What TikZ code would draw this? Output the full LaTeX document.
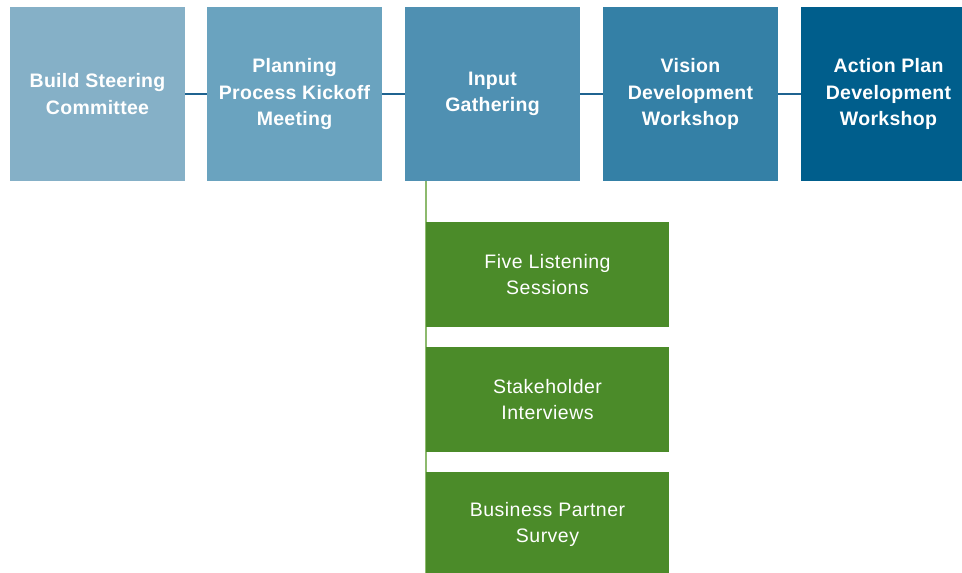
\documentclass[tikz,border=0pt]{standalone}
\usepackage{fontspec}
\setmainfont{Liberation Sans}
\newfontfamily\stepfont[LetterSpace=2.5]{Liberation Sans}
\newfontfamily\phasefont[LetterSpace=1.5]{Liberation Sans}
\begin{document}
\begin{tikzpicture}[x=1pt,y=-1pt,
  phase/.style={fill=#1, draw=none, minimum width=175pt, minimum height=174pt,
    inner sep=0pt, align=center, text=white,
    font=\phasefont\fontsize{19.5}{26.5}\selectfont\bfseries},
  task/.style={fill=taskgreen, draw=none, minimum width=243pt, minimum height=105pt,
    inner sep=0pt, align=center, text=white,
    font=\stepfont\fontsize{19.5}{26}\selectfont},
  link/.style={draw=linkblue, line width=1.2pt},
  stem/.style={draw=stemgreen, line width=1.4pt}]
\definecolor{ph1}{HTML}{85B0C7}
\definecolor{ph2}{HTML}{6AA3BF}
\definecolor{ph3}{HTML}{4F90B2}
\definecolor{ph4}{HTML}{3480A6}
\definecolor{ph5}{HTML}{005E8C}
\definecolor{taskgreen}{HTML}{4B8B29}
\definecolor{linkblue}{HTML}{1F6390}
\definecolor{stemgreen}{HTML}{8DBA6E}
\useasboundingbox (0,0) rectangle (962,573);
\clip (0,0) rectangle (962,573);

% vertical stem under the input phase
\coordinate (stemtop) at (426,181);
\coordinate (stembot) at (426,573);
\draw[stem] (stemtop) -- (stembot);

% top row of phases
\node[phase=ph1] (p1) at (97.5,94) {Build Steering\\Committee};
\node[phase=ph2] (p2) at (294.5,94) {Planning\\Process Kickoff\\Meeting};
\node[phase=ph3] (p3) at (492.5,94) {Input\\Gathering};
\node[phase=ph4] (p4) at (690.5,94) {Vision\\Development\\Workshop};
\node[phase=ph5] (p5) at (888.5,94) {Action Plan\\Development\\Workshop};

\draw[link] (p1.east) -- (p2.west);
\draw[link] (p2.east) -- (p3.west);
\draw[link] (p3.east) -- (p4.west);
\draw[link] (p4.east) -- (p5.west);

% input gathering activities
\node[task] (t1) at (547.5,274.5) {Five Listening\\Sessions};
\node[task] (t2) at (547.5,399.5) {Stakeholder\\Interviews};
\node[task] (t3) at (547.5,524.5) {Business Partner\\Survey};
\end{tikzpicture}
\end{document}
